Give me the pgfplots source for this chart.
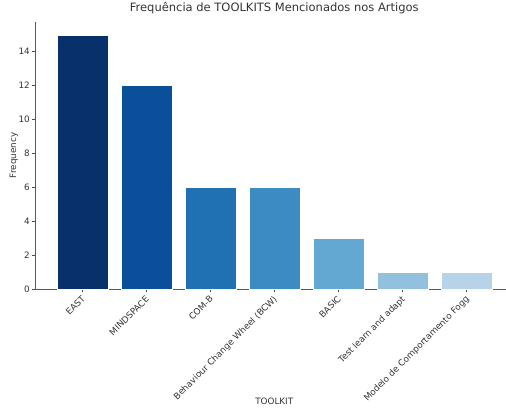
\documentclass[border=0pt]{standalone}
\usepackage{pgfplots}
\pgfplotsset{compat=1.18}
\usepackage{fontspec}
\setmainfont{DejaVu Sans}
\definecolor{txt}{HTML}{333333}
\definecolor{c1}{HTML}{08306B}
\definecolor{c2}{HTML}{0A4F9A}
\definecolor{c3}{HTML}{2070B4}
\definecolor{c4}{HTML}{3D8BC3}
\definecolor{c5}{HTML}{62A8D3}
\definecolor{c6}{HTML}{91C1DF}
\definecolor{c7}{HTML}{B6D3EA}
\begin{document}
\begin{tikzpicture}
\path[use as bounding box] (0,0) rectangle (506pt,407pt);
\begin{axis}[
  at={(35pt,118pt)}, anchor=south west,
  scale only axis, width=471pt, height=267pt,
  xmin=-0.74, xmax=6.62, ymin=0, ymax=15.75,
  axis x line*=bottom, axis y line*=left,
  axis line style={black!65, line width=0.6pt},
  xtick={0,1,2,3,4,5,6},
  xticklabels={EAST,MINDSPACE,COM-B,Behaviour Change Wheel (BCW),BASIC,Test learn and adapt,Modelo de Comportamento Fogg},
  ytick={0,2,4,6,8,10,12,14},
  tick align=outside, major tick length=3pt,
  tick style={black!70, line width=0.5pt},
  /pgf/number format/assume math mode=true,
  ticklabel style={font=\fontsize{8.8}{10}\selectfont, text=txt},
  xticklabel style={rotate=45, anchor=north east, inner sep=1pt, xshift=-2pt},
  yticklabel style={inner sep=2pt},
  ylabel={Frequency},
  ylabel style={at={(axis description cs:-0.045,0.5)}, anchor=center, rotate=0, font=\fontsize{8.8}{10}\selectfont, text=txt},
  xlabel={TOOLKIT},
  xlabel style={at={(rel axis cs:0.508,0)}, anchor=north, yshift=-109pt, inner sep=0pt, font=\fontsize{8.8}{10}\selectfont, text=txt},
  title={Frequência de TOOLKITS Mencionados nos Artigos},
  title style={at={(rel axis cs:0.508,1)}, anchor=base, yshift=4pt, inner sep=0pt, font=\fontsize{11.5}{13}\selectfont, text=txt},
  ybar, bar width=0.8, bar shift=0pt,
  every axis plot/.append style={draw=white, line width=0.3pt},
]
\addplot[fill=c1] coordinates {(0,15)};
\addplot[fill=c2] coordinates {(1,12)};
\addplot[fill=c3] coordinates {(2,6)};
\addplot[fill=c4] coordinates {(3,6)};
\addplot[fill=c5] coordinates {(4,3)};
\addplot[fill=c6] coordinates {(5,1)};
\addplot[fill=c7] coordinates {(6,1)};
\end{axis}
\end{tikzpicture}
\end{document}
